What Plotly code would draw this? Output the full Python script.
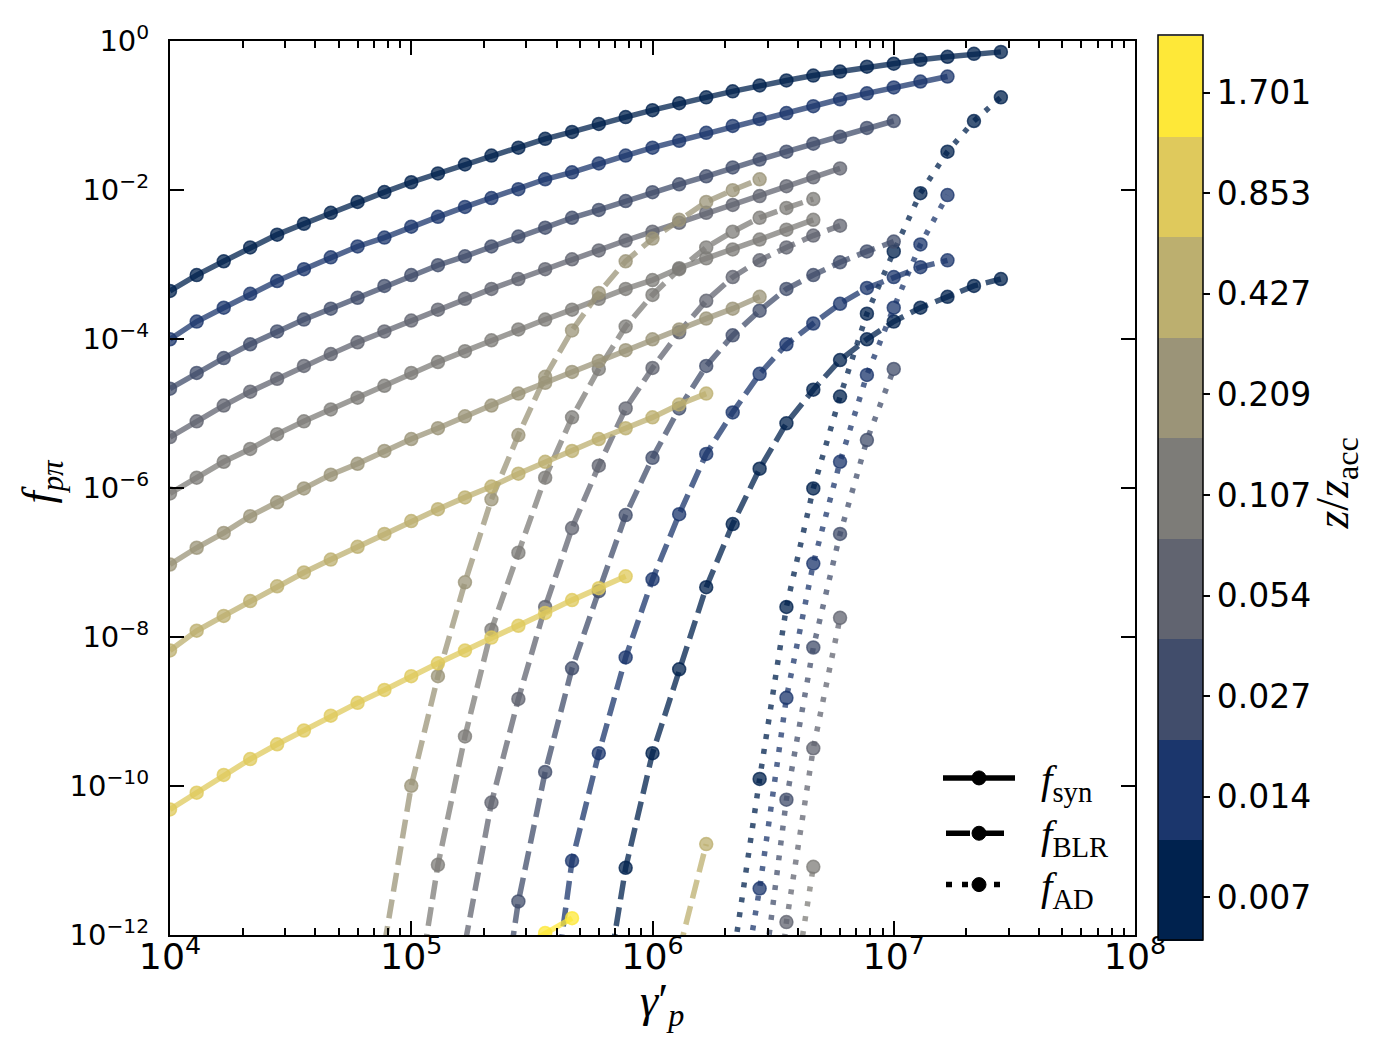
import numpy as np
import plotly.graph_objects as go

# ---------------- data ----------------
# proton Lorentz-factor grid (9 points per decade)
GAMMA = [1.00e4, 1.29e4, 1.67e4, 2.15e4, 2.78e4, 3.59e4, 4.64e4, 5.99e4, 7.74e4,
         1.00e5, 1.29e5, 1.67e5, 2.15e5, 2.78e5, 3.59e5, 4.64e5, 5.99e5, 7.74e5,
         1.00e6, 1.29e6, 1.67e6, 2.15e6, 2.78e6, 3.59e6, 4.64e6, 5.99e6, 7.74e6,
         1.00e7, 1.29e7, 1.67e7, 2.15e7, 2.78e7]

Z_LABELS = ["0.007", "0.014", "0.027", "0.054", "0.107", "0.209", "0.427", "0.853", "1.701"]
Z_COLORS = ["#00224E", "#1B366C", "#414D6B", "#616470", "#7D7C78",
            "#9B9478", "#BCAF6F", "#DFC95C", "#FEE838"]

# log10(f_syn) values, starting at GAMMA index given in SYN table
LOGF_SYN_0007 = [-3.355, -3.142, -2.957, -2.771, -2.599, -2.453, -2.307, -2.161, -2.028, -1.896,
                 -1.777, -1.657, -1.538, -1.432, -1.313, -1.220, -1.114, -1.021, -0.928, -0.835,
                 -0.756, -0.676, -0.596, -0.530, -0.464, -0.411, -0.345, -0.305, -0.252, -0.212,
                 -0.172, -0.146]
LOGF_SYN_0014 = [-4.004, -3.766, -3.580, -3.394, -3.222, -3.063, -2.904, -2.758, -2.639, -2.493,
                 -2.360, -2.227, -2.108, -1.989, -1.856, -1.763, -1.644, -1.538, -1.432, -1.339,
                 -1.233, -1.140, -1.047, -0.968, -0.875, -0.782, -0.703, -0.623, -0.544, -0.477]
LOGF_SYN_0027 = [-4.667, -4.455, -4.256, -4.071, -3.898, -3.739, -3.593, -3.447, -3.288, -3.142,
                 -3.010, -2.890, -2.758, -2.625, -2.506, -2.373, -2.267, -2.148, -2.029, -1.923,
                 -1.816, -1.697, -1.591, -1.485, -1.379, -1.286, -1.167, -1.074]
LOGF_SYN_0054 = [-5.317, -5.105, -4.893, -4.707, -4.535, -4.362, -4.203, -4.044, -3.898, -3.752,
                 -3.606, -3.461, -3.328, -3.195, -3.063, -2.930, -2.811, -2.678, -2.559, -2.440,
                 -2.307, -2.201, -2.082, -1.949, -1.830, -1.710]
LOGF_SYN_0107 = [-6.073, -5.861, -5.648, -5.476, -5.277, -5.105, -4.946, -4.787, -4.628, -4.455,
                 -4.309, -4.163, -4.017, -3.872, -3.739, -3.606, -3.461, -3.328, -3.209, -3.050,
                 -2.917, -2.798, -2.665, -2.532, -2.400]
LOGF_SYN_0209 = [-7.027, -6.802, -6.603, -6.378, -6.192, -6.006, -5.821, -5.675, -5.503, -5.343,
                 -5.197, -5.038, -4.893, -4.733, -4.588, -4.442, -4.296, -4.150, -4.004, -3.872,
                 -3.726, -3.593, -3.434]
LOGF_SYN_0427 = [-8.181, -7.916, -7.717, -7.518, -7.319, -7.134, -6.961, -6.789, -6.616, -6.444,
                 -6.285, -6.126, -5.980, -5.808, -5.648, -5.503, -5.343, -5.198, -5.052, -4.879,
                 -4.733]
LOGF_SYN_0853 = [-10.315, -10.090, -9.852, -9.639, -9.440, -9.255, -9.056, -8.884, -8.711, -8.526,
                 -8.353, -8.181, -8.008, -7.849, -7.677, -7.505, -7.345, -7.186]
LOGF_SYN_1701 = [-12.185, -11.973, -11.774]

# log10(f_BLR)
LOGF_BLR_0007 = [-13.31, -11.098, -9.560, -8.433, -7.332, -6.484, -5.741, -5.131, -4.680, -4.283,
                 -4.004, -3.766, -3.580, -3.434, -3.288, -3.195]
LOGF_BLR_0014 = [-13.68, -11.005, -9.560, -8.274, -7.226, -6.351, -5.542, -4.985, -4.468, -4.071,
                 -3.792, -3.527, -3.315, -3.169, -3.036, -2.944]
LOGF_BLR_0027 = [-13.99, -11.549, -9.812, -8.420, -7.385, -6.364, -5.595, -4.932, -4.362, -3.951,
                 -3.620, -3.328, -3.142, -2.970, -2.824, -2.692]
LOGF_BLR_0054 = [-12.12, -10.223, -8.831, -7.597, -6.537, -5.701, -4.932, -4.389, -3.911, -3.487,
                 -3.169, -2.944, -2.771, -2.612, -2.479]
LOGF_BLR_0107 = [-13.31, -11.058, -9.334, -7.902, -6.868, -5.861, -5.052, -4.402, -3.832, -3.408,
                 -3.063, -2.771, -2.559, -2.373, -2.241, -2.121]
LOGF_BLR_0209 = [-12.132, -9.997, -8.526, -7.266, -6.152, -5.290, -4.508, -3.885, -3.381, -2.957,
                 -2.652, -2.400, -2.161, -2.002, -1.856]
LOGF_BLR_0427 = [-12.21, -10.780]

# log10(f_AD)
LOGF_AD_0007 = [-12.357, -9.905, -7.597, -6.006, -4.773, -3.660, -2.824, -2.042, -1.485, -1.074, -0.756]
LOGF_AD_0014 = [-13.524, -11.376, -8.817, -7.014, -5.648, -4.482, -3.580, -2.731, -2.068]
LOGF_AD_0027 = [-12.994, -10.183, -8.141, -6.616, -5.357, -4.402]
LOGF_AD_0054 = [-14.85, -11.827, -9.494, -7.743]
LOGF_AD_0107 = [-13.405, -11.085]

# (z index, first GAMMA index, values)
SYN = [(0, 0, LOGF_SYN_0007), (1, 0, LOGF_SYN_0014), (2, 0, LOGF_SYN_0027),
       (3, 0, LOGF_SYN_0054), (4, 0, LOGF_SYN_0107), (5, 0, LOGF_SYN_0209),
       (6, 0, LOGF_SYN_0427), (7, 0, LOGF_SYN_0853), (8, 13, LOGF_SYN_1701)]
BLR = [(0, 16, LOGF_BLR_0007), (1, 14, LOGF_BLR_0014), (2, 12, LOGF_BLR_0027),
       (3, 11, LOGF_BLR_0054), (4, 9, LOGF_BLR_0107), (5, 8, LOGF_BLR_0209),
       (6, 19, LOGF_BLR_0427)]
AD = [(0, 21, LOGF_AD_0007), (1, 21, LOGF_AD_0014), (2, 22, LOGF_AD_0027),
      (3, 22, LOGF_AD_0054), (4, 23, LOGF_AD_0107)]

# ---------------- styling ----------------
ALPHA = 0.75
LW = 5.5
MSIZE = 13
DASHED = "19px,8px"
DOTTED = "5px,10px"
TICKFONT = dict(family="DejaVu Sans", size=29, color="black")
CBFONT = dict(family="DejaVu Sans", size=33, color="black")
MATHFONT = "Liberation Serif"


def rgba(hexc, a):
    h = hexc.lstrip("#")
    return f"rgba({int(h[0:2], 16)},{int(h[2:4], 16)},{int(h[4:6], 16)},{a})"


fig = go.Figure()

curves = []
for kind, table, dash in (("syn", SYN, "solid"), ("blr", BLR, DASHED), ("ad", AD, DOTTED)):
    for zi, k0, vals in table:
        curves.append((zi, kind, k0, vals, dash))
order = {"syn": 0, "blr": 1, "ad": 2}
curves.sort(key=lambda c: (c[0], order[c[1]]))

for zi, kind, k0, vals, dash in curves:
    col = rgba(Z_COLORS[zi], ALPHA)
    x = GAMMA[k0:k0 + len(vals)]
    y = list(10.0 ** np.array(vals))
    fig.add_trace(go.Scatter(
        x=x, y=y, mode="lines+markers", showlegend=False, hoverinfo="skip",
        line=dict(color=col, width=LW, dash=dash),
        marker=dict(size=MSIZE, color=col, line=dict(color=col, width=1.5)),
    ))

# colorbar via a dummy trace
n = len(Z_LABELS)
cscale = []
for i, c in enumerate(Z_COLORS):
    cscale.append([i / n, c])
    cscale.append([(i + 1) / n, c])

# page (screenshot) geometry; the html body adds an 8px margin
OFF = 8
W, H = 1376 - 2 * OFF, 1052 - 2 * OFF
PL, PR, PT, PB = 170, 1135, 30, 935          # plot area in page pixels
pw, ph = PR - PL, PB - PT


def px_x(p):
    return (p - PL) / pw


def px_y(p):
    return (PB - p) / ph


fig.add_trace(go.Scatter(
    x=[None], y=[None], mode="markers", showlegend=False, hoverinfo="skip",
    marker=dict(color=[0], cmin=0, cmax=n, colorscale=cscale, showscale=True,
                colorbar=dict(
                    thickness=45, thicknessmode="pixels", len=ph, lenmode="pixels",
                    x=px_x(1158), xanchor="left", xpad=0, y=0.5, yanchor="middle", ypad=0,
                    outlinewidth=1.5, outlinecolor="black",
                    tickmode="array", tickvals=[i + 0.43 for i in range(n)], ticktext=Z_LABELS,
                    ticks="outside", ticklen=7, tickwidth=1.5, tickcolor="black",
                    tickfont=CBFONT,
                )),
))

ytick_exp = [-12, -10, -8, -6, -4, -2, 0]
fig.update_layout(
    width=W, height=H,
    margin=dict(l=PL - OFF, r=W - (PR - OFF), t=PT - OFF, b=H - (PB - OFF)),
    paper_bgcolor="white", plot_bgcolor="white",
    xaxis=dict(type="log", range=[4, 8], showgrid=False, zeroline=False,
               showline=True, linecolor="black", linewidth=2, mirror="allticks",
               ticks="inside", ticklen=14, tickwidth=2, tickcolor="black",
               dtick=1, exponentformat="power", tickfont=TICKFONT, ticklabelstandoff=-10,
               minor=dict(ticks="inside", ticklen=7, tickwidth=1.5, tickcolor="black",
                          dtick="D1", showgrid=False)),
    yaxis=dict(type="log", range=[-12, 0], showgrid=False, zeroline=False,
               showline=True, linecolor="black", linewidth=2, mirror="allticks",
               ticks="inside", ticklen=14, tickwidth=2, tickcolor="black",
               tickmode="array", tickvals=[10.0 ** e for e in ytick_exp],
               ticktext=["10<sup>" + ("\u2212" if e < 0 else "") + str(abs(e)) + "</sup>"
                         for e in ytick_exp],
               tickfont=TICKFONT, ticklabelstandoff=13),
)

# axis titles
ann = [
    dict(text="<i>f</i><sub><i>p\u03c0</i></sub>", x=px_x(42), y=px_y(476), textangle=-90,
         font=dict(family=MATHFONT, size=44, color="black")),
    dict(text="<i>\u03b3</i>\u2032<sub><i>p</i></sub>", x=px_x(662), y=px_y(1005),
         font=dict(family=MATHFONT, size=46, color="black")),
    dict(text="<i>z</i>/<i>z</i><sub>acc</sub>", x=px_x(1336), y=px_y(478), textangle=-90,
         font=dict(family=MATHFONT, size=46, color="black")),
]

# legend (drawn manually, black handles)
LEG_LABELS = ["<i>f</i><sub>syn</sub>", "<i>f</i><sub>BLR</sub>", "<i>f</i><sub>AD</sub>"]
LEG_DASH = ["solid", "24px,10px", "6px,10px"]
LEG_ROWS = [776, 832, 884]
LEG_X = [(943, 1015), (946, 1004), (946, 1003)]
shapes = []
for lab, dsh, ry, (xa, xb) in zip(LEG_LABELS, LEG_DASH, LEG_ROWS, LEG_X):
    shapes.append(dict(type="line", xref="paper", yref="paper",
                       x0=px_x(xa), x1=px_x(xb), y0=px_y(ry), y1=px_y(ry),
                       line=dict(color="black", width=LW, dash=dsh)))
    shapes.append(dict(type="circle", xref="paper", yref="paper",
                       xsizemode="pixel", ysizemode="pixel",
                       xanchor=px_x(979), yanchor=px_y(ry),
                       x0=-7, x1=7, y0=-7, y1=7,
                       fillcolor="black", line=dict(color="black", width=1)))
    ann.append(dict(text=lab, x=px_x(1039), y=px_y(ry + 4), xanchor="left",
                    font=dict(family=MATHFONT, size=41, color="black")))

for a in ann:
    a.setdefault("xanchor", "center")
    a.update(xref="paper", yref="paper", yanchor="middle", showarrow=False)
fig.update_layout(annotations=ann, shapes=shapes)

fig.write_html("out.html")
